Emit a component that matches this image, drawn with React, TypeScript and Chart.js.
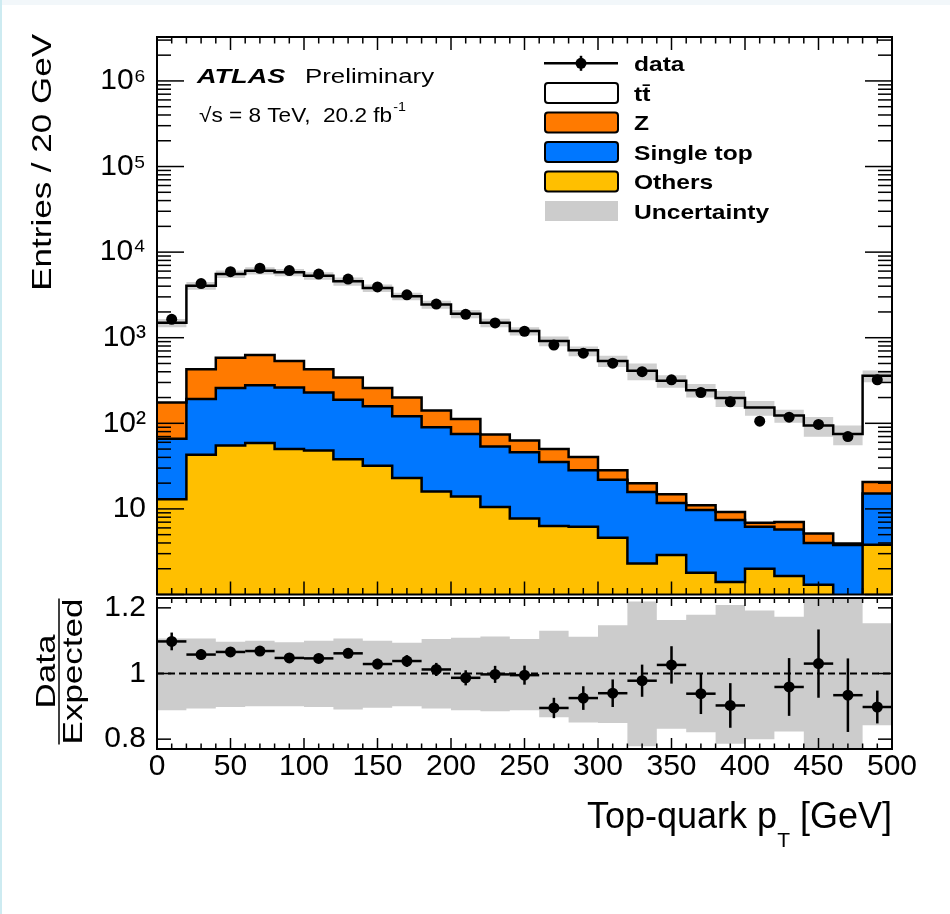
import React, { useEffect, useRef } from 'react';
import { Chart, registerables } from 'chart.js';

Chart.register(...registerables);

const FONT = '"Liberation Sans", Arial, Helvetica, sans-serif';
const ORANGE = '#ff7a00';
const BLUE = '#0077ff';
const YELLOW = '#ffbf00';
const GREY = '#cccccc';
const BAND_MAIN = '#d0d0d0';

// ---- data (bins of 20 GeV) ----
const binEdges = [0, 20, 40, 60, 80, 100, 120, 140, 160, 180, 200, 220, 240, 260, 280, 300, 320, 340, 360, 380, 400, 420, 440, 460, 480, 500];
const ttbar = [1319, 3628, 4961, 5436, 5269, 4868, 4217, 3552, 2854, 2299, 1788, 1420, 1133, 866, 672, 508, 390, 299, 233, 188, 146, 116, 89, 71, 338];
const zjets = [109, 236, 327, 350, 274, 199, 155, 100, 79, 51, 37, 20.5, 17, 15, 12.1, 6.3, 4.2, 3.1, 1.3, 1.8, 0.7, 1.3, 1.16, 0.17, 5.5];
const singleTop = [53, 149, 203, 220, 212, 181, 150, 126, 98, 74, 61, 43, 38.3, 28.9, 22, 17.3, 13.5, 8.8, 7.9, 6.0, 4.2, 4.1, 2.7, 3.78, 11.3];
const others = [13, 43, 55, 59, 50, 48, 38, 32, 23, 16, 14, 10.5, 7.7, 6.3, 6.2, 4.6, 2.3, 2.9, 1.8, 1.4, 2.0, 1.65, 1.3, 0, 3.8];
const dataCounts = [1640, 4290, 5910, 6480, 6080, 5540, 4840, 3920, 3170, 2470, 1875, 1490, 1190, 820, 659, 504, 401, 322, 229, 178, 106, 118, 97, 70, 322];
const ratioErr = [0.027, 0.016, 0.014, 0.013, 0.013, 0.014, 0.015, 0.016, 0.018, 0.02, 0.023, 0.026, 0.029, 0.031, 0.036, 0.042, 0.049, 0.057, 0.062, 0.068, 0.08, 0.088, 0.104, 0.112, 0.05];
const bandUp = [1.107, 1.107, 1.097, 1.1, 1.095, 1.1, 1.107, 1.1, 1.094, 1.105, 1.109, 1.113, 1.105, 1.13, 1.112, 1.147, 1.219, 1.163, 1.179, 1.209, 1.192, 1.173, 1.26, 1.26, 1.153];
const bandDown = [0.888, 0.893, 0.898, 0.9, 0.9, 0.898, 0.89, 0.896, 0.9, 0.893, 0.888, 0.885, 0.888, 0.867, 0.851, 0.849, 0.778, 0.832, 0.821, 0.786, 0.8, 0.823, 0.74, 0.74, 0.842];

const logTickValues = [10, 100, 1000, 10000, 100000, 1000000];
const ratioTickValues = [0.8, 1, 1.2];
const xTickValues = [0, 50, 100, 150, 200, 250, 300, 350, 400, 450, 500];
const legendLabels = ['data', 'tt\u0304', 'Z', 'Single top', 'Others', 'Uncertainty'];

// ---- derived ----
const nb = ttbar.length;
const sumArr = (...arrs: number[][]) => arrs[0].map((_, i) => arrs.reduce((s, a) => s + a[i], 0));
const cumOthers = others;
const cumST = sumArr(others, singleTop);
const cumZ = sumArr(others, singleTop, zjets);
const total = sumArr(others, singleTop, zjets, ttbar);
const LOG_FLOOR = 0.01;
const centers = binEdges.slice(0, -1).map((e, i) => (e + binEdges[i + 1]) / 2);
const ratio = dataCounts.map((d, i) => d / total[i]);

function stepPoints(vals: number[]) {
  const pts = vals.map((v, i) => ({ x: binEdges[i], y: v > 0 ? v : LOG_FLOOR }));
  pts.push({ x: binEdges[nb], y: pts[nb - 1].y });
  return pts;
}

const SUP: Record<string, string> = { '0': '\u2070', '1': '\u00b9', '2': '\u00b2', '3': '\u00b3', '4': '\u2074', '5': '\u2075', '6': '\u2076', '7': '\u2077', '8': '\u2078', '9': '\u2079' };
function fmtPow(v: number) {
  const e = Math.round(Math.log10(v));
  if (e === 1) return '10';
  return '10' + String(e).split('').map((c) => SUP[c]).join('');
}

function drawText(ctx: CanvasRenderingContext2D, s: string, x: number, y: number, font: string, sx = 1, align: CanvasTextAlign = 'left') {
  ctx.save();
  ctx.translate(x, y);
  ctx.scale(sx, 1);
  ctx.font = font;
  ctx.textAlign = align;
  ctx.textBaseline = 'alphabetic';
  ctx.fillStyle = '#000';
  ctx.fillText(s, 0, 0);
  const w = ctx.measureText(s).width * sx;
  ctx.restore();
  return w;
}
function measure(ctx: CanvasRenderingContext2D, s: string, font: string, sx = 1) {
  ctx.save();
  ctx.font = font;
  const w = ctx.measureText(s).width * sx;
  ctx.restore();
  return w;
}
function drawRotText(ctx: CanvasRenderingContext2D, s: string, x: number, y: number, font: string, sx: number, align: CanvasTextAlign) {
  ctx.save();
  ctx.translate(x, y);
  ctx.rotate(-Math.PI / 2);
  ctx.scale(sx, 1);
  ctx.font = font;
  ctx.textAlign = align;
  ctx.textBaseline = 'alphabetic';
  ctx.fillStyle = '#000';
  ctx.fillText(s, 0, 0);
  ctx.restore();
}
function seg(ctx: CanvasRenderingContext2D, x1: number, y1: number, x2: number, y2: number) {
  ctx.beginPath();
  ctx.moveTo(x1, y1);
  ctx.lineTo(x2, y2);
  ctx.stroke();
}

const fillDs = (vals: number[], color: string, fill: any) => ({
  data: stepPoints(vals), stepped: 'before', borderWidth: 0, borderColor: 'rgba(0,0,0,0)',
  backgroundColor: color, fill, pointRadius: 0, order: 10,
});
const lineDs = (vals: number[]) => ({
  data: stepPoints(vals), stepped: 'before', borderWidth: 2.5, borderColor: '#000',
  fill: false, pointRadius: 0, order: 2,
});

const fixV = (w: number) => (s: any) => { s.width = w; s.paddingTop = 0; s.paddingBottom = 0; };
const fixH = (h: number) => (s: any) => { s.height = h; s.paddingLeft = 0; s.paddingRight = 0; };

const mainPlugin = {
  id: 'mainDecor',
  afterDraw(chart: any) {
    const ctx: CanvasRenderingContext2D = chart.ctx;
    const { left, right, top, bottom } = chart.chartArea;
    const xs = chart.scales.x;
    const ys = chart.scales.y;
    ctx.save();
    ctx.strokeStyle = '#000';
    ctx.lineWidth = 1.5;
    for (let v = 0; v <= 500; v += 10) {
      const px = xs.getPixelForValue(v);
      const len = v % 50 === 0 ? 13 : 6.5;
      seg(ctx, px, top, px, top + len);
      seg(ctx, px, bottom, px, bottom - len);
    }
    for (let d = 0; d <= 6; d++) {
      for (let m = 1; m <= 9; m++) {
        const v = m * Math.pow(10, d);
        if (v < ys.min || v > ys.max) continue;
        const py = ys.getPixelForValue(v);
        const len = m === 1 ? 27 : 14;
        seg(ctx, left, py, left + len, py);
        seg(ctx, right, py, right - len, py);
      }
    }
    ctx.lineWidth = 2;
    ctx.strokeRect(left, top, right - left, bottom - top);

    // ATLAS label
    drawText(ctx, 'ATLAS', 197, 83, `italic bold 21px ${FONT}`, 1.29);
    drawText(ctx, 'Preliminary', 305, 83, `20px ${FONT}`, 1.29);
    const w2 = drawText(ctx, '\u221as = 8 TeV,  20.2 fb', 199, 122, `20px ${FONT}`, 1.13);
    drawText(ctx, '-1', 199 + w2 + 1, 111, `13px ${FONT}`, 1.1);

    // legend
    const rows = [63.3, 93, 122.5, 152, 181.5, 211];
    ctx.lineWidth = 2.5;
    seg(ctx, 544, rows[0], 618, rows[0]);
    seg(ctx, 581, rows[0] - 7.5, 581, rows[0] + 7.5);
    ctx.fillStyle = '#000';
    ctx.beginPath();
    ctx.arc(581, rows[0], 5.5, 0, Math.PI * 2);
    ctx.fill();
    const boxColors = ['#ffffff', ORANGE, BLUE, YELLOW];
    ctx.lineWidth = 2;
    boxColors.forEach((c, i) => {
      const y = rows[i + 1];
      ctx.fillStyle = c;
      ctx.beginPath();
      (ctx as any).roundRect(545, y - 10, 73, 20, 3);
      ctx.fill();
      ctx.stroke();
    });
    ctx.fillStyle = GREY;
    ctx.fillRect(545, rows[5] - 10, 73, 20);
    legendLabels.forEach((t, i) => {
      drawText(ctx, t, 634, rows[i] + 7.5, `bold 21px ${FONT}`, 1.17);
    });

    // y title
    drawRotText(ctx, 'Entries / 20 GeV', 51, 34, `28px ${FONT}`, 1.25, 'right');
    ctx.restore();
  },
};

const ratioPlugin = {
  id: 'ratioDecor',
  afterDatasetsDraw(chart: any) {
    const ctx: CanvasRenderingContext2D = chart.ctx;
    const { left, right, top, bottom } = chart.chartArea;
    const xs = chart.scales.x;
    const ys = chart.scales.y;
    ctx.save();
    ctx.beginPath();
    ctx.rect(left, top, right - left, bottom - top);
    ctx.clip();
    ctx.strokeStyle = '#000';
    ctx.lineWidth = 2.5;
    ratio.forEach((r, i) => {
      if (r < ys.min || r > ys.max) return;
      const x1 = xs.getPixelForValue(binEdges[i]);
      const x2 = xs.getPixelForValue(binEdges[i + 1]);
      const xc = xs.getPixelForValue(centers[i]);
      const y = ys.getPixelForValue(r);
      seg(ctx, x1, y, x2, y);
      seg(ctx, xc, ys.getPixelForValue(r + ratioErr[i]), xc, ys.getPixelForValue(r - ratioErr[i]));
    });
    ctx.restore();

    ctx.save();
    ctx.strokeStyle = '#000';
    ctx.lineWidth = 1.5;
    for (let v = 0; v <= 500; v += 10) {
      const px = xs.getPixelForValue(v);
      const major = v % 50 === 0;
      seg(ctx, px, top, px, top + (major ? 8 : 5));
      seg(ctx, px, bottom, px, bottom - (major ? 11 : 5.5));
    }
    ratioTickValues.forEach((v) => {
      const py = ys.getPixelForValue(v);
      seg(ctx, left, py, left + 14, py);
      seg(ctx, right, py, right - 14, py);
    });
    ctx.lineWidth = 2;
    ctx.strokeRect(left, top, right - left, bottom - top);
    ctx.restore();
  },
  afterDraw(chart: any) {
    const ctx: CanvasRenderingContext2D = chart.ctx;
    const { right, top, bottom } = chart.chartArea;
    ctx.save();
    // x title, right aligned to frame
    const big = `36px ${FONT}`;
    const small = `21px ${FONT}`;
    const p1 = 'Top-quark p';
    const p2 = 'T';
    const p3 = ' [GeV]';
    const wTot = measure(ctx, p1, big) + measure(ctx, p2, small) + measure(ctx, p3, big);
    let x = right - wTot;
    const base = 238;
    x += drawText(ctx, p1, x, base, big);
    x += drawText(ctx, p2, x, base + 18.5, small);
    drawText(ctx, p3, x, base, big);

    // y title fraction
    const cy = (top + bottom) / 2 - 2;
    const fw = measure(ctx, 'Expected', `28px ${FONT}`, 1.25);
    ctx.strokeStyle = '#000';
    ctx.lineWidth = 1.5;
    seg(ctx, 59, cy - fw / 2, 59, cy + fw / 2);
    drawRotText(ctx, 'Data', 55, cy, `28px ${FONT}`, 1.25, 'center');
    drawRotText(ctx, 'Expected', 82, cy, `28px ${FONT}`, 1.25, 'center');
    ctx.restore();
  },
};

function mainConfig(): any {
  return {
    type: 'line',
    data: {
      datasets: [
        fillDs(cumOthers, YELLOW, 'start'),
        fillDs(cumST, BLUE, '-1'),
        fillDs(cumZ, ORANGE, '-1'),
        fillDs(total, '#ffffff', '-1'),
        { data: stepPoints(total.map((t, i) => t * bandDown[i])), stepped: 'before', borderWidth: 0, borderColor: 'rgba(0,0,0,0)', fill: false, pointRadius: 0, order: 5 },
        { data: stepPoints(total.map((t, i) => t * bandUp[i])), stepped: 'before', borderWidth: 0, borderColor: 'rgba(0,0,0,0)', backgroundColor: BAND_MAIN, fill: '-1', pointRadius: 0, order: 5 },
        lineDs(cumOthers),
        lineDs(cumST),
        lineDs(cumZ),
        lineDs(total),
        {
          data: centers.map((c, i) => ({ x: c, y: dataCounts[i] })), showLine: false,
          pointRadius: 5.5, pointBackgroundColor: '#000', pointBorderWidth: 0, borderColor: '#000', order: 0,
        },
      ],
    },
    options: {
      responsive: false,
      devicePixelRatio: 1,
      animation: false,
      events: [],
      layout: { padding: { left: 0, right: 58, top: 37, bottom: 2 } },
      plugins: { legend: { display: false }, tooltip: { enabled: false } },
      scales: {
        x: { type: 'linear', min: 0, max: 500, display: false },
        y: {
          type: 'logarithmic', min: 1, max: 3.26e6, position: 'left',
          afterBuildTicks: (s: any) => { s.ticks = logTickValues.map((v) => ({ value: v })); },
          afterFit: fixV(157),
          grid: { display: false, drawTicks: false }, border: { display: false },
          ticks: { font: { family: FONT, size: 30 }, color: '#000', padding: 11, autoSkip: false, callback: (v: any) => fmtPow(Number(v)) },
        },
      },
    },
    plugins: [mainPlugin],
  };
}

function ratioConfig(): any {
  return {
    type: 'line',
    data: {
      datasets: [
        { data: stepPoints(bandDown), stepped: 'before', borderWidth: 0, borderColor: 'rgba(0,0,0,0)', fill: false, pointRadius: 0, order: 10 },
        { data: stepPoints(bandUp), stepped: 'before', borderWidth: 0, borderColor: 'rgba(0,0,0,0)', backgroundColor: GREY, fill: '-1', pointRadius: 0, order: 10 },
        { data: [{ x: 0, y: 1 }, { x: 500, y: 1 }], borderColor: '#000', borderWidth: 2, borderDash: [7, 4], pointRadius: 0, fill: false, order: 3 },
        {
          data: centers.map((c, i) => ({ x: c, y: ratio[i] })), showLine: false,
          pointRadius: 5.5, pointBackgroundColor: '#000', pointBorderWidth: 0, borderColor: '#000', order: 0,
        },
      ],
    },
    options: {
      responsive: false,
      devicePixelRatio: 1,
      animation: false,
      events: [],
      layout: { padding: { left: 0, right: 58, top: 8, bottom: 105 } },
      plugins: { legend: { display: false }, tooltip: { enabled: false } },
      scales: {
        x: {
          type: 'linear', min: 0, max: 500, position: 'bottom',
          afterBuildTicks: (s: any) => { s.ticks = xTickValues.map((v) => ({ value: v })); },
          afterFit: fixH(60),
          grid: { display: false, drawTicks: false }, border: { display: false },
          ticks: { font: { family: FONT, size: 30 }, color: '#000', padding: 0, autoSkip: false, maxRotation: 0 },
        },
        y: {
          type: 'linear', min: 0.77, max: 1.23, position: 'left',
          afterBuildTicks: (s: any) => { s.ticks = ratioTickValues.map((v) => ({ value: v })); },
          afterFit: fixV(157),
          grid: { display: false, drawTicks: false }, border: { display: false },
          ticks: { font: { family: FONT, size: 30 }, color: '#000', padding: 11, autoSkip: false, callback: (v: any) => String(v) },
        },
      },
    },
    plugins: [ratioPlugin],
  };
}

export default function App() {
  const mainRef = useRef<HTMLCanvasElement>(null);
  const ratioRef = useRef<HTMLCanvasElement>(null);
  useEffect(() => {
    const main = new Chart(mainRef.current as HTMLCanvasElement, mainConfig());
    const rat = new Chart(ratioRef.current as HTMLCanvasElement, ratioConfig());
    return () => {
      main.destroy();
      rat.destroy();
    };
  }, []);
  return (
    <div style={{ position: 'fixed', left: 0, top: 0, width: 950, height: 914, background: '#fff', overflow: 'hidden' }}>
      <canvas ref={mainRef} width={950} height={600} style={{ position: 'absolute', left: 0, top: 0, width: 950, height: 600 }} />
      <canvas ref={ratioRef} width={950} height={324} style={{ position: 'absolute', left: 0, top: 590, width: 950, height: 324 }} />
      <div style={{ position: 'absolute', left: 0, top: 0, width: 950, height: 5, background: '#f2f7fa' }} />
      <div style={{ position: 'absolute', left: 0, top: 0, width: 2, height: 914, background: '#cdebf1' }} />
    </div>
  );
}
